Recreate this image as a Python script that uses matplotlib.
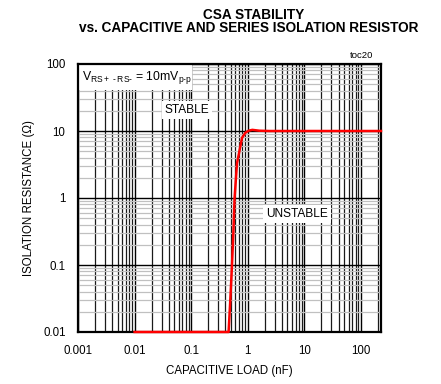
import matplotlib
matplotlib.use("Agg")
import matplotlib.pyplot as plt
from matplotlib.ticker import LogLocator, NullFormatter
from matplotlib.patches import Rectangle

plt.rcParams['font.family'] = ['Liberation Sans', 'DejaVu Sans']
plt.rcParams['mathtext.fontset'] = 'custom'
plt.rcParams['mathtext.rm'] = 'Liberation Sans'

# Data
cap_nf = [0.01, 0.2, 0.457, 0.49, 0.525, 0.555, 0.583, 0.644, 0.716, 0.789, 0.903, 1.03, 1.2, 1.6, 2.4, 225]
res_ohm = [0.01, 0.01, 0.01, 0.03, 0.1, 0.3, 1.0, 3.3, 5.2, 7.9, 9.4, 10.1, 10.4, 10.1, 10.0, 10.0]

x_ticks = [0.001, 0.01, 0.1, 1, 10, 100]
x_ticklabels = ['0.001', '0.01', '0.1', '1', '10', '100']
y_ticks = [0.01, 0.1, 1, 10, 100]
y_ticklabels = ['0.01', '0.1', '1', '10', '100']

fig = plt.figure(figsize=(4.41, 3.84), dpi=100)
ax = fig.add_axes([78/441, 52/384, 303/441, 268/384])

ax.set_xscale('log')
ax.set_yscale('log')
ax.set_xlim(0.001, 225)
ax.set_ylim(0.01, 100)

ax.set_xticks(x_ticks)
ax.set_xticklabels(x_ticklabels)
ax.set_yticks(y_ticks)
ax.set_yticklabels(y_ticklabels)
ax.xaxis.set_minor_locator(LogLocator(base=10, subs=range(2, 10), numticks=20))
ax.yaxis.set_minor_locator(LogLocator(base=10, subs=range(2, 10), numticks=20))
ax.xaxis.set_minor_formatter(NullFormatter())
ax.yaxis.set_minor_formatter(NullFormatter())

ax.tick_params(which='both', length=0, labelsize=8.3, colors='black')
ax.tick_params(axis='x', pad=9)
ax.tick_params(axis='y', pad=9)

ax.grid(True, which='major', axis='both', color='black', lw=1.0)
ax.grid(True, which='minor', axis='x', color='#1a1a1a', lw=0.9)
ax.grid(True, which='minor', axis='y', color='#c0c0c0', lw=0.9)
ax.set_axisbelow(True)

for s in ax.spines.values():
    s.set_linewidth(1.6)
    s.set_color('black')
    s.set_zorder(5)

ax.plot(cap_nf, res_ohm, color='#ff0000', lw=1.8, zorder=7, solid_joinstyle='round',
        clip_on=False)

# white box behind the condition text
ax.add_patch(Rectangle((0, 0.903), 0.376, 0.097, transform=ax.transAxes,
                       facecolor='white', edgecolor='none', zorder=3))
ax.text(0.012, 0.951, 'V$\\mathregular{_{RS+\u2009\u2010\u2009RS\u2010}}$ = 10mV$\\mathregular{_{p\u2010p}}$',
        transform=ax.transAxes, fontsize=8.8, va='center', ha='left', zorder=6)

ax.text(0.359, 0.828, 'STABLE', transform=ax.transAxes, fontsize=8.6,
        ha='center', va='center', zorder=6,
        bbox=dict(facecolor='white', edgecolor='none', pad=2.0))
ax.text(0.723, 0.440, 'UNSTABLE', transform=ax.transAxes, fontsize=8.6,
        ha='center', va='center', zorder=6,
        bbox=dict(facecolor='white', edgecolor='none', pad=2.0))

ax.set_xlabel('CAPACITIVE LOAD (nF)', fontsize=8.3, labelpad=6)
ax.set_ylabel('ISOLATION RESISTANCE (\u03a9)', fontsize=8.3, labelpad=6)

fig.text(254/441, 1 - 15/384, 'CSA STABILITY', fontsize=9.8, fontweight='bold',
         ha='center', va='center')
fig.text(249/441, 1 - 28/384, 'vs. CAPACITIVE AND SERIES ISOLATION RESISTOR',
         fontsize=9.8, fontweight='bold', ha='center', va='center')
fig.text(362/441, 1 - 56/384, 'toc20', fontsize=6.8, ha='center', va='center')

fig.savefig('out.png', dpi=100)
